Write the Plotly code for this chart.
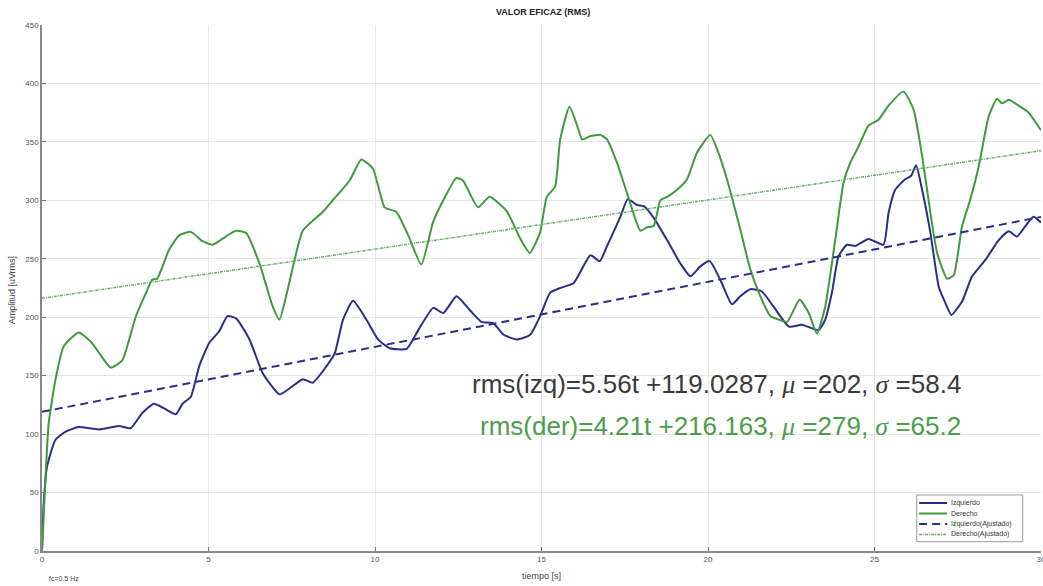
import plotly.graph_objects as go

# ---- data ----
t_izq = [0, 0.05, 0.15, 0.4, 0.7, 1.1, 1.71, 2.31, 2.66, 3.01, 3.36, 3.67, 4.02, 4.22, 4.47, 4.72,
         5.02, 5.32, 5.57, 5.83, 6.23, 6.63, 7.13, 7.43, 7.83, 8.13, 8.54, 8.79, 9.04, 9.34, 9.74,
         10.09, 10.44, 10.95, 11.30, 11.75, 12.05, 12.45, 12.85, 13.20, 13.55, 13.86, 14.26, 14.66,
         14.96, 15.26, 15.56, 15.96, 16.47, 16.75, 16.97, 17.37, 17.59, 17.87, 18.07, 18.37, 18.77,
         19.17, 19.47, 19.77, 20.05, 20.37, 20.72, 20.97, 21.27, 21.62, 21.97, 22.43, 22.82, 23.32,
         23.52, 23.72, 23.92, 24.17, 24.42, 24.82, 25.27, 25.42, 25.62, 25.92, 26.10, 26.25, 26.43,
         26.68, 26.93, 27.13, 27.31, 27.63, 27.93, 28.33, 28.73, 29.03, 29.28, 29.53, 29.78, 30.0]
v_izq = [0, 40, 72, 95, 102, 106, 104, 107, 105, 118, 126, 122, 117, 126, 132, 158,
         178, 188, 201, 199, 181, 152, 134, 139, 147, 144, 158, 169, 198, 214, 198,
         181, 173.5, 173, 189, 208, 203.5, 218, 206, 196, 195, 185, 181, 185,
         201, 221, 225, 229, 253, 248, 261, 286, 301, 296, 295, 285, 266,
         246, 235, 243.5, 248, 232, 211, 218, 224, 222, 209, 192, 193.5, 189,
         198, 221, 252, 262, 261, 267, 262, 289, 309, 318, 321, 330, 309,
         272, 226, 212, 202, 213.5, 235, 249, 266, 273.5, 269, 278, 286, 281]

t_der = [0, 0.1, 0.2, 0.4, 0.65, 1.1, 1.5, 2.06, 2.41, 2.61, 2.81, 3.11, 3.31, 3.46, 3.82, 4.12,
         4.47, 4.82, 5.12, 5.52, 5.82, 6.13, 6.53, 6.93, 7.13, 7.43, 7.83, 8.43, 8.73, 9.24, 9.59,
         9.94, 10.29, 10.64, 11.0, 11.39, 11.74, 12.05, 12.44, 12.64, 13.09, 13.44, 13.95, 14.35,
         14.65, 14.95, 15.16, 15.41, 15.56, 15.84, 16.07, 16.22, 16.47, 16.77, 16.97, 17.27, 17.57,
         17.97, 18.17, 18.37, 18.57, 18.77, 19.07, 19.37, 19.67, 20.07, 20.27, 20.57, 20.97, 21.27,
         21.57, 21.87, 22.12, 22.38, 22.75, 23.02, 23.27, 23.52, 23.82, 24.07, 24.27, 24.52, 24.82,
         25.12, 25.42, 25.87, 26.17, 26.43, 26.68, 26.88, 27.18, 27.38, 27.63, 27.88, 28.13, 28.43,
         28.68, 28.83, 29.03, 29.33, 29.63, 30.0]
v_der = [0, 60, 109, 146, 175, 187, 178, 157, 163, 180, 200, 220, 232, 233, 258, 270,
         273, 265, 262, 269, 274, 272, 246, 209, 198, 230, 274, 290, 300, 317, 335,
         327, 294, 290, 270, 245, 281, 300, 319, 317, 294, 303, 291, 268,
         255, 272, 303, 312, 352, 380, 364, 352, 355, 356, 352, 332, 306,
         274, 277, 278, 300, 303, 309, 318, 341, 356, 344, 318, 275, 241,
         218, 201, 198, 196, 215, 204, 186, 209, 266, 315, 332, 346, 364,
         369, 381, 393, 378, 338, 289, 255, 233, 236, 278, 301, 329, 372,
         387, 383, 386, 381, 375, 360]

# fitted lines (end points)
t_fit = [0, 30]
v_fit_izq = [119.03, 285.83]
v_fit_der = [216.16, 342.46]

x_ticks = [0, 5, 10, 15, 20, 25, 30]
y_ticks = [0, 50, 100, 150, 200, 250, 300, 350, 400, 450]
legend_names = ["Izquierdo", "Derecho", "Izquierdo(Ajustado)", "Derecho(Ajustado)"]

BLUE = "#2b2d8a"
GREEN = "#3d9b3d"
GREEN_FIT = "#6aaa6a"
FONT = "Liberation Sans"

styles = [
    dict(color=BLUE, width=2),
    dict(color=GREEN, width=2),
    dict(color=BLUE, width=2, dash="8px,5px"),
    dict(color=GREEN_FIT, width=1.5, dash="3px,1px,1px,1px"),
]

fig = go.Figure()
fig.add_trace(go.Scatter(x=t_izq, y=v_izq, mode="lines", name=legend_names[0],
                         line=dict(**styles[0], shape="spline", smoothing=0.5)))
fig.add_trace(go.Scatter(x=t_der, y=v_der, mode="lines", name=legend_names[1],
                         line=dict(**styles[1], shape="spline", smoothing=0.5)))
fig.add_trace(go.Scatter(x=t_fit, y=v_fit_izq, mode="lines", name=legend_names[2], line=styles[2]))
fig.add_trace(go.Scatter(x=t_fit, y=v_fit_der, mode="lines", name=legend_names[3], line=styles[3]))

# faint white box behind the equations
fig.add_shape(type="rect", xref="x", yref="y", x0=12.2, x1=29.4, y0=78, y1=164,
              fillcolor="rgba(255,255,255,0.85)", line=dict(width=0), layer="below")

sym = '<span style="font-family:Liberation Serif"><i>%s</i></span>'
fig.add_annotation(x=12.85, y=143, xref="x", yref="y", xanchor="left", yanchor="middle",
                   showarrow=False,
                   text="rms(izq)=5.56t +119.0287, " + sym % "μ" + " =202, " + sym % "σ" + " =58.4",
                   font=dict(family=FONT, size=26, color="#3a3a3a"))
fig.add_annotation(x=13.09, y=107, xref="x", yref="y", xanchor="left", yanchor="middle",
                   showarrow=False,
                   text="rms(der)=4.21t +216.163, " + sym % "μ" + " =279, " + sym % "σ" + " =65.2",
                   font=dict(family=FONT, size=26, color="#4a9e4a"))

# compact MATLAB-style legend box (paper coordinates)
fig.add_shape(type="rect", xref="paper", yref="paper", x0=0.8756, x1=0.9817, y0=0.0177, y1=0.1065,
              fillcolor="white", line=dict(color="#999999", width=1), layer="above")
row_y = [0.0913, 0.0713, 0.0513, 0.0314]
for name, st, yy in zip(legend_names, styles, row_y):
    fig.add_shape(type="line", xref="paper", yref="paper", x0=0.878, x1=0.906, y0=yy, y1=yy,
                  line=st, layer="above")
    fig.add_annotation(x=0.9075, y=yy, xref="paper", yref="paper", xanchor="left", yanchor="middle",
                       showarrow=False, text=name, font=dict(family=FONT, size=7, color="#333333"))

# axis titles, title and footnote
fig.add_annotation(x=0.5013, y=1.0247, xref="paper", yref="paper", xanchor="center", yanchor="middle",
                   showarrow=False, text="<b>VALOR EFICAZ (RMS)</b>",
                   font=dict(family=FONT, size=9, color="#222222"))
fig.add_annotation(x=0.5, y=-0.0475, xref="paper", yref="paper", xanchor="center", yanchor="middle",
                   showarrow=False, text="tiempo [s]", font=dict(family=FONT, size=9, color="#444444"))
fig.add_annotation(x=-0.030, y=0.496, xref="paper", yref="paper", xanchor="center", yanchor="middle",
                   showarrow=False, text="Amplitud [uVrms]", textangle=-90,
                   font=dict(family=FONT, size=9, color="#444444"))
fig.add_annotation(x=0.005, y=-0.0515, xref="paper", yref="paper", xanchor="left", yanchor="middle",
                   showarrow=False, text="fc=0.5 Hz",
                   font=dict(family=FONT, size=7, color="#444444"))

fig.update_layout(
    width=1043, height=586,
    margin=dict(l=42, r=2, t=25, b=35, autoexpand=False),
    paper_bgcolor="white", plot_bgcolor="white",
    font=dict(family=FONT, size=8, color="#555555"),
    showlegend=False,
)
fig.update_xaxes(range=[0, 30], tickvals=x_ticks, ticks="inside", ticklen=4, tickcolor="#777777",
                 showline=True, linecolor="#888888", linewidth=1.5, automargin=False,
                 ticklabeloverflow="allow", tickfont=dict(size=8, color="#555555"),
                 showgrid=True, gridcolor="#e6e6e6", zeroline=False)
fig.update_yaxes(range=[0, 450], tickvals=y_ticks, ticks="inside", ticklen=4, tickcolor="#777777",
                 showline=True, linecolor="#888888", linewidth=1.5, automargin=False,
                 tickfont=dict(size=8, color="#555555"),
                 showgrid=True, gridcolor="#e6e6e6", zeroline=False)

fig.write_html("out.html", config={"displayModeBar": False},
               post_script="document.body.style.margin='0';document.body.style.overflow='hidden';")
